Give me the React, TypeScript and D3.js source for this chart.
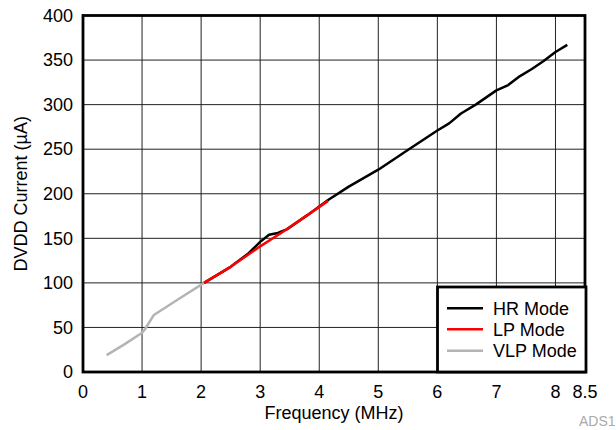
import React from "react";
import * as d3 from "d3";

const xTicks = [0, 1, 2, 3, 4, 5, 6, 7, 8, 8.5];
const yTicks = [0, 50, 100, 150, 200, 250, 300, 350, 400];

const hrFreq = [2.05, 2.5, 2.8, 3.0, 3.15, 3.3, 3.45, 3.8, 4.15, 4.5, 5.0, 5.5, 6.0, 6.2, 6.4, 6.65, 7.0, 7.2, 7.4, 7.6, 7.8, 8.0, 8.2];
const hrCurrent = [100, 118, 133, 146, 154, 156, 160, 176, 193, 208, 227, 249, 271, 279, 290, 300, 316, 322, 332, 340, 349, 359, 367];

const lpFreq = [2.05, 2.5, 3.0, 3.4, 3.8, 4.15];
const lpCurrent = [100, 118, 141, 158, 176, 192];

const vlpFreq = [0.4, 0.7, 1.0, 1.05, 1.2, 1.6, 2.05];
const vlpCurrent = [19, 31, 44, 48, 64, 81, 100];

const seriesNames = ["HR Mode", "LP Mode", "VLP Mode"];
const seriesColors = ["#000000", "#ff0000", "#b4b4b4"];

const W = 616;
const H = 430;
const M = { left: 83, right: 585, top: 15.5, bottom: 372 };
const FONT = "'Liberation Sans', Arial, Helvetica, sans-serif";
const FS = 18;

export default function App() {
  const x = d3.scaleLinear().domain([0, 8.5]).range([M.left, M.right]);
  const y = d3.scaleLinear().domain([0, 400]).range([M.bottom, M.top]);
  const line = d3
    .line<[number, number]>()
    .x((d) => x(d[0]))
    .y((d) => y(d[1]))
    .curve(d3.curveLinear);

  const zip = (a: number[], b: number[]) => a.map((v, i) => [v, b[i]] as [number, number]);
  const series = [zip(hrFreq, hrCurrent), zip(lpFreq, lpCurrent), zip(vlpFreq, vlpCurrent)];

  const legend = { x0: 437.5, y0: 287, x1: 586, y1: 372 };
  const legendRows = [308.3, 329.3, 350.7];
  const legendText = [315, 336, 356.5];

  return (
    <svg width={W} height={H} style={{ position: "absolute", left: 0, top: 0 }}>
      <rect x={0} y={0} width={W} height={H} fill="#fff" />
      {xTicks
        .filter((t) => t > 0 && t < 8.5)
        .map((t) => (
          <line key={"gx" + t} x1={x(t)} x2={x(t)} y1={M.top} y2={M.bottom} stroke="#222" strokeWidth={1} />
        ))}
      {yTicks
        .filter((t) => t > 0 && t < 400)
        .map((t) => (
          <line key={"gy" + t} x1={M.left} x2={M.right} y1={y(t)} y2={y(t)} stroke="#222" strokeWidth={1} />
        ))}
      <path d={line(series[2]) || ""} fill="none" stroke={seriesColors[2]} strokeWidth={2.5} strokeLinejoin="round" />
      <path d={line(series[0]) || ""} fill="none" stroke={seriesColors[0]} strokeWidth={2.5} strokeLinejoin="round" />
      <path d={line(series[1]) || ""} fill="none" stroke={seriesColors[1]} strokeWidth={2.5} strokeLinejoin="round" />
      <rect
        x={M.left}
        y={M.top}
        width={M.right - M.left}
        height={M.bottom - M.top}
        fill="none"
        stroke="#000"
        strokeWidth={2.8}
      />
      {yTicks.map((t) => (
        <text key={"yl" + t} x={73} y={y(t) + 6.3} textAnchor="end" fontFamily={FONT} fontSize={FS} fill="#000">
          {t}
        </text>
      ))}
      {xTicks.map((t) => (
        <text key={"xl" + t} x={x(t)} y={398} textAnchor="middle" fontFamily={FONT} fontSize={FS} fill="#000">
          {t}
        </text>
      ))}
      <text x={334} y={419} textAnchor="middle" fontFamily={FONT} fontSize={FS} fill="#000">
        Frequency (MHz)
      </text>
      <text
        transform={`translate(27, ${(M.top + M.bottom) / 2}) rotate(-90)`}
        textAnchor="middle"
        fontFamily={FONT}
        fontSize={FS}
        fill="#000"
      >
        DVDD Current (µA)
      </text>
      <rect
        x={legend.x0}
        y={legend.y0}
        width={legend.x1 - legend.x0}
        height={legend.y1 - legend.y0}
        fill="#fff"
        stroke="#000"
        strokeWidth={2.8}
      />
      {seriesNames.map((n, i) => (
        <g key={n}>
          <line x1={447} x2={483} y1={legendRows[i]} y2={legendRows[i]} stroke={seriesColors[i]} strokeWidth={2.5} />
          <text x={493} y={legendText[i]} fontFamily={FONT} fontSize={FS} fill="#000">
            {n}
          </text>
        </g>
      ))}
      <text x={579} y={426} fontFamily={FONT} fontSize={14} fill="#aaa">
        ADS1
      </text>
    </svg>
  );
}
